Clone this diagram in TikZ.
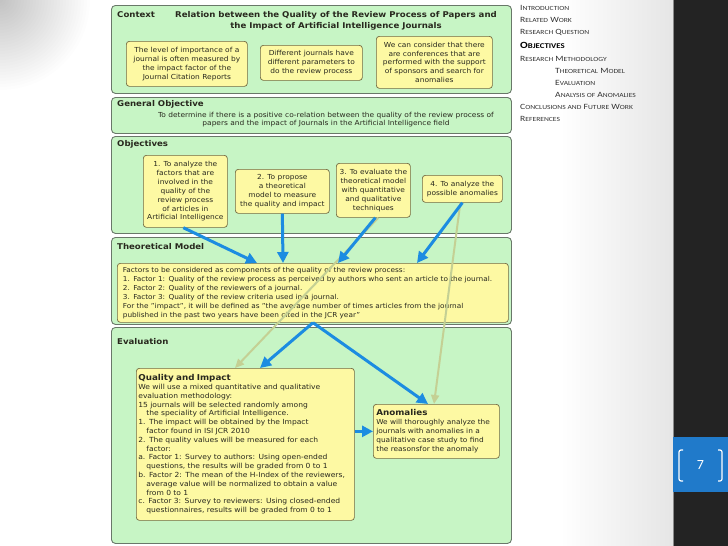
\documentclass[tikz,border=0pt]{standalone}
\usepackage{fontspec}
\setmainfont{DejaVu Sans}[FakeStretch=1.08]
\newfontfamily\tocfont{Carlito}[FakeStretch=1.2]
\newfontfamily\numfont{Carlito}
\usetikzlibrary{arrows.meta,positioning,calc}

\definecolor{panelfill}{RGB}{199,245,197}
\definecolor{panelline}{RGB}{105,120,105}
\definecolor{boxfill}{RGB}{253,249,163}
\definecolor{boxline}{RGB}{115,105,65}
\definecolor{arrowblue}{RGB}{28,140,225}
\definecolor{arrowolive}{RGB}{196,208,148}
\definecolor{sidedark}{RGB}{35,35,35}
\definecolor{pageblue}{RGB}{32,122,202}
\definecolor{inktext}{RGB}{40,40,30}

\tikzset{
  panel/.style={draw=panelline, fill=panelfill, line width=0.9pt, rounded corners=4pt, anchor=north west, inner sep=0pt},
  ptitle/.style={anchor=west, font=\fontsize{7.95}{9}\selectfont\bfseries, text=inktext, inner sep=0pt},
  ybox/.style={draw=boxline, fill=boxfill, line width=0.7pt, rounded corners=3pt, anchor=north west, inner sep=0pt, align=center, font=\fontsize{6.9}{8.9}\selectfont, text=inktext},
  bluearrow/.style={draw=arrowblue, line width=3pt, -{Triangle[length=11pt,width=11pt]}},
  olivearrow/.style={draw=arrowolive, line width=2pt, -{Triangle[length=9pt,width=8pt]}},
  tocitem/.style={anchor=west, inner sep=0pt, font=\tocfont\fontsize{8}{9}\selectfont, text=black!80},
}
\newcommand\smc[1]{{\fontsize{6.3}{7}\selectfont #1}}
\newcommand\bigsmc[1]{{\fontsize{7.3}{8}\selectfont #1}}

\begin{document}
\begin{tikzpicture}[x=1pt, y=-1pt]
        \useasboundingbox (0,0) rectangle (728,546);

        % Slide background
        \fill[white] (0,0) rectangle (728,546);
        \foreach \r in {3,6,...,90}
            \fill[black, opacity=0.007] (0,0) circle (\r);
        \shade[left color=white, right color=black!10] (560,0) rectangle (673,546);
        \fill[sidedark] (673,0) rectangle (728,546);
        \draw[black!45, line width=0.6pt] (673,0) -- (673,546);

        % Context
        \node[panel, minimum width=400, minimum height=88] (ctx) at (111,5) {};
        \node[ptitle] (ctxname) at ([shift={(6,10)}]ctx.north west) {Context};
        \node[ptitle, anchor=center, align=center, font=\fontsize{7.95}{11}\selectfont\bfseries] (ctxtitle) at (336,20.5)
            {Relation between the Quality of the Review Process of Papers and\\the Impact of Artificial Intelligence Journals};
        \node[ybox, minimum width=121, minimum height=45] (cx1) at (126,41)
            {The level of importance of a\\journal is often measured by\\the impact factor of the\\Journal Citation Reports};
        \node[ybox, minimum width=102, minimum height=35] (cx2) at (260,45)
            {Different journals have\\different parameters to\\do the review process};
        \node[ybox, minimum width=116, minimum height=52] (cx3) at (376,36)
            {We can consider that there\\are conferences that are\\performed with the support\\of sponsors and search for\\anomalies};

        % General Objective
        \node[panel, minimum width=400, minimum height=36] (gen) at (111,97) {};
        \node[ptitle] (genname) at ([shift={(6,7)}]gen.north west) {General Objective};
        \node[align=center, inner sep=0pt, text=inktext, font=\fontsize{6.9}{8.5}\selectfont] (gentext) at (326,119.5)
            {To determine if there is a positive co-relation between the quality of the review process of\\papers and the impact of Journals in the Artificial Intelligence field};

        % Objectives
        \node[panel, minimum width=400, minimum height=97] (obj) at (111,136) {};
        \node[ptitle] (objname) at ([shift={(6,8)}]obj.north west) {Objectives};
        \node[ybox, minimum width=84, minimum height=72] (ob1) at (143,155)
            {1. To analyze the\\factors that are\\involved in the\\quality of the\\review process\\of articles in\\Artificial Intelligence};
        \node[ybox, minimum width=94, minimum height=44] (ob2) at (235,169)
            {2. To propose\\a theoretical\\model to measure\\the quality and impact};
        \node[ybox, minimum width=74, minimum height=54] (ob3) at (336,163)
            {3. To evaluate the\\theoretical model\\with quantitative\\and qualitative\\techniques};
        \node[ybox, minimum width=80, minimum height=27] (ob4) at (422,175)
            {4. To analyze the\\possible anomalies};

        % Theoretical Model
        \node[panel, minimum width=400, minimum height=87] (theo) at (111,237) {};
        \node[ptitle] (theoname) at ([shift={(6,10)}]theo.north west) {Theoretical Model};
        \node[ybox, align=left, text width=380, inner xsep=5.5pt, minimum height=59, font=\fontsize{6.8}{9}\selectfont] (tm) at (117,263)
            {Factors to be considered as components of the quality of the review process:\\
             1. Factor 1: Quality of the review process as perceived by authors who sent an article to the journal.\\
             2. Factor 2: Quality of the reviewers of a journal.\\
             3. Factor 3: Quality of the review criteria used in a journal.\\
             For the "impact", it will be defined as "the average number of times articles from the journal\\
             published in the past two years have been cited in the JCR year"};

        % Evaluation
        \node[panel, minimum width=400, minimum height=216] (eval) at (111,327) {};
        \node[ptitle] (evalname) at ([shift={(6,15)}]eval.north west) {Evaluation};
        \node[ybox, align=left, text width=214, inner xsep=2pt, minimum height=152, font=\fontsize{7}{8.8}\selectfont] (qi) at (136,368)
            {{\fontsize{8.1}{9}\selectfont\bfseries Quality and Impact}\\
             We will use a mixed quantitative and qualitative\\
             evaluation methodology:\\
             15 journals will be selected randomly among\\
             \hspace*{8pt}the speciality of Artificial Intelligence.\\
             1. The impact will be obtained by the Impact\\
             \hspace*{8pt}factor found in ISI JCR 2010\\
             2. The quality values will be measured for each\\
             \hspace*{8pt}factor:\\
             a. Factor 1: Survey to authors: Using open-ended\\
             \hspace*{8pt}questions, the results will be graded from 0 to 1\\
             b. Factor 2: The mean of the H-Index of the reviewers,\\
             \hspace*{8pt}average value will be normalized to obtain a value\\
             \hspace*{8pt}from 0 to 1\\
             c. Factor 3: Survey to reviewers: Using closed-ended\\
             \hspace*{8pt}questionnaires, results will be graded from 0 to 1};
        \node[ybox, align=left, text width=120, inner xsep=3pt, minimum height=54, font=\fontsize{6.85}{8.9}\selectfont] (an) at (373,404)
            {{\fontsize{8.1}{9}\selectfont\bfseries Anomalies}\\
             We will thoroughly analyze the\\
             journals with anomalies in a\\
             qualitative case study to find\\
             the reasonsfor the anomaly};

        % Olive arrows (on top of the panels)
        \draw[olivearrow] ([xshift=5pt]ob3.south) -- ([xshift=99pt]qi.north west);
        \draw[olivearrow] ([xshift=-2pt]ob4.south) -- ([xshift=61pt]an.north west);

        % Blue arrows
        \draw[bluearrow] ([xshift=-2pt]ob1.south) -- ([xshift=140pt]tm.north west);
        \draw[bluearrow] (ob2.south) -- ([xshift=166pt]tm.north west);
        \draw[bluearrow] ([xshift=2pt]ob3.south) -- ([xshift=221pt]tm.north west);
        \draw[bluearrow] (ob4.south) -- ([xshift=300pt]tm.north west);
        \draw[bluearrow] ([xshift=196pt]tm.south west) -- ([xshift=124pt]qi.north west);
        \draw[bluearrow] ([xshift=196pt]tm.south west) -- ([xshift=55pt]an.north west);
        \draw[bluearrow] (qi.east |- an.west) -- (an.west);

        % Outline on the right
        \node[tocitem] (toc1) at (520,7.5) {I\smc{NTRODUCTION}};
        \node[tocitem] (toc2) at (520,20) {R\smc{ELATED} W\smc{ORK}};
        \node[tocitem] (toc3) at (520,32) {R\smc{ESEARCH} Q\smc{UESTION}};
        \node[tocitem, font=\tocfont\bfseries\fontsize{9.5}{10}\selectfont, text=black] (toc4) at (520,45) {O\bigsmc{BJECTIVES}};
        \node[tocitem] (toc5) at (520,59) {R\smc{ESEARCH} M\smc{ETHODOLOGY}};
        \node[tocitem] (toc6) at (555,71) {T\smc{HEORETICAL} M\smc{ODEL}};
        \node[tocitem] (toc7) at (555,83) {E\smc{VALUATION}};
        \node[tocitem] (toc8) at (555,95) {A\smc{NALYSIS OF} A\smc{NOMALIES}};
        \node[tocitem] (toc9) at (520,107) {C\smc{ONCLUSIONS AND} F\smc{UTURE} W\smc{ORK}};
        \node[tocitem] (toc10) at (520,119) {R\smc{EFERENCES}};

        % Page number
        \fill[pageblue] (673,437) rectangle (728,492);
        \draw[white, line width=1.2pt, rounded corners=2pt] (683,450) -- (679,450) -- (679,481) -- (683,481);
        \draw[white, line width=1.2pt, rounded corners=2pt] (718,450) -- (722,450) -- (722,481) -- (718,481);
        \node[text=white, font=\numfont\fontsize{14}{14}\selectfont] (pgnum) at (700.5,465.5) {7};
\end{tikzpicture}
\end{document}
